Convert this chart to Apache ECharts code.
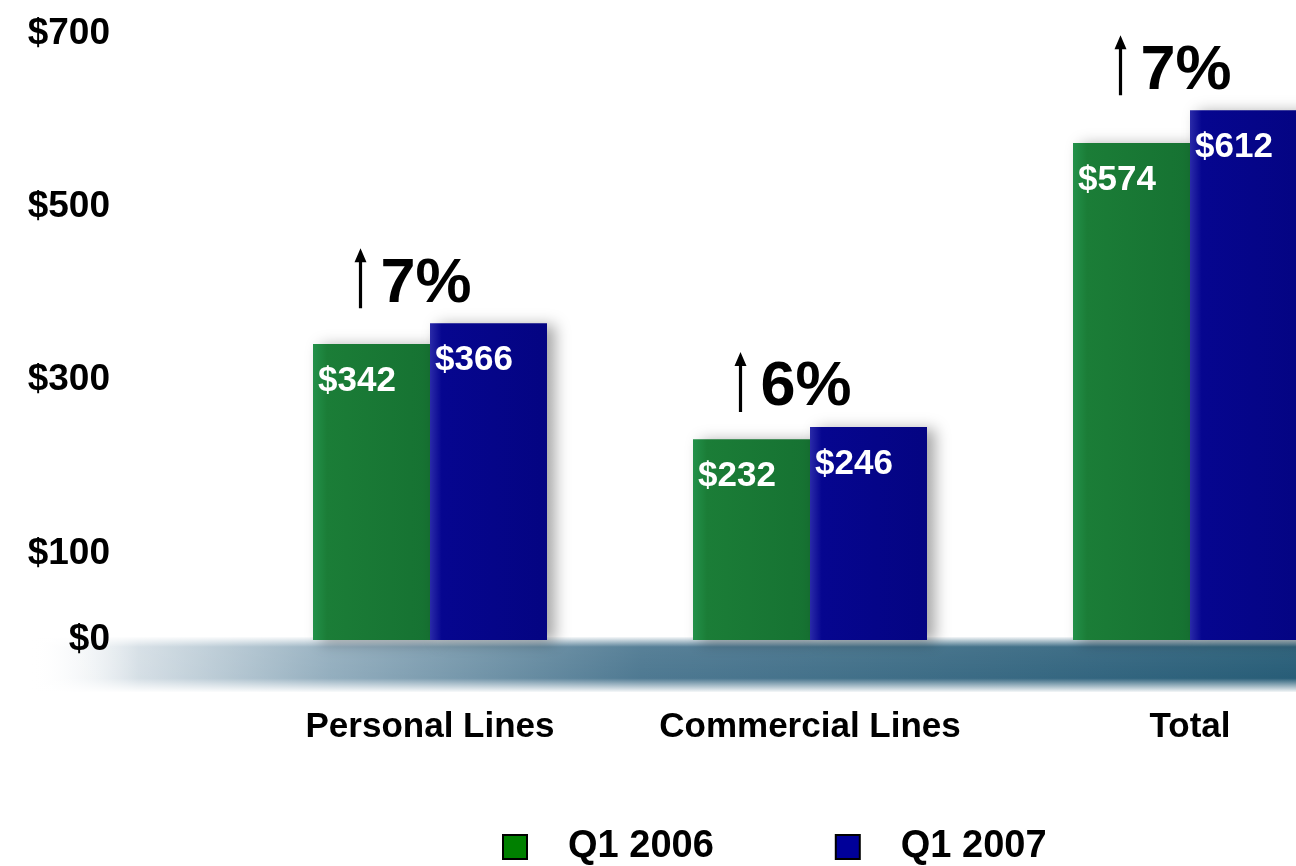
<!DOCTYPE html>
<html>
<head>
<meta charset="utf-8">
<script src="https://cdn.jsdelivr.net/npm/echarts@6/dist/echarts.min.js"></script>
<style>
html,body{margin:0;padding:0;background:#fff;overflow:hidden;width:1296px;height:866px;}
#chart{width:1380px;height:866px;}
</style>
</head>
<body>
<div id="chart"></div>
<script>
var categories = ['Personal Lines', 'Commercial Lines', 'Total'];
var seriesNames = ['Q1 2006', 'Q1 2007'];
var q1_2006 = [342, 232, 574];
var q1_2007 = [366, 246, 612];
var growth = ['7%', '6%', '7%'];
var yTickLabels = [0, 100, 300, 500, 700];

var FONT = '"Liberation Sans", Arial, Helvetica, sans-serif';

var chart = echarts.init(document.getElementById('chart'));

var greenFill = new echarts.graphic.LinearGradient(0, 0, 1, 0, [
  {offset: 0, color: '#23914a'},
  {offset: 0.12, color: '#1b7d37'},
  {offset: 1, color: '#167232'}
]);
var blueFill = new echarts.graphic.LinearGradient(0, 0, 1, 0, [
  {offset: 0, color: '#2a2aa8'},
  {offset: 0.1, color: '#06068f'},
  {offset: 1, color: '#040482'}
]);

var valueLabel = {
  show: true,
  position: [5, 20],
  color: '#ffffff',
  fontFamily: FONT,
  fontWeight: 'bold',
  fontSize: 35,
  formatter: function (p) { return '$' + p.value; }
};

var arrowPath = 'path://M6,0 L12,14 L7.6,14 L7.6,60 L4.4,60 L4.4,14 L0,14 Z';

option = {
  backgroundColor: '#ffffff',
  animation: false,
  textStyle: {fontFamily: FONT},
  graphic: [
    {
      type: 'rect', z: -10, silent: true,
      shape: {x: 30, y: 637, width: 1360, height: 55},
      style: {
        fill: new echarts.graphic.LinearGradient(0, 0, 1, 0, [
          {offset: 0, color: 'rgba(255,255,255,0)'},
          {offset: 0.08, color: '#d3dde4'},
          {offset: 0.22, color: '#8eaabb'},
          {offset: 0.45, color: '#45728c'},
          {offset: 1, color: '#16506c'}
        ])
      }
    },
    {
      type: 'rect', z: -9, silent: true,
      shape: {x: 30, y: 637, width: 1360, height: 55},
      style: {
        fill: new echarts.graphic.LinearGradient(0, 0, 0, 1, [
          {offset: 0, color: 'rgba(255,255,255,0.95)'},
          {offset: 0.18, color: 'rgba(255,255,255,0.1)'},
          {offset: 0.75, color: 'rgba(255,255,255,0.05)'},
          {offset: 1, color: 'rgba(255,255,255,0.95)'}
        ])
      }
    }
  ],
  legend: {
    left: 497,
    top: 823,
    itemWidth: 24,
    itemHeight: 24,
    itemGap: 121,
    icon: 'rect',
    textStyle: {
      fontFamily: FONT, fontWeight: 'bold', fontSize: 38, color: '#000',
      padding: [4, 0, 0, 36]
    },
    data: [
      {name: seriesNames[0], itemStyle: {color: '#008000', borderColor: '#000', borderWidth: 2}},
      {name: seriesNames[1], itemStyle: {color: '#000099', borderColor: '#000', borderWidth: 2}}
    ]
  },
  grid: {left: 240, right: 0, top: 34, bottom: 226, containLabel: false},
  xAxis: {
    type: 'category',
    data: categories,
    z: 5,
    axisLine: {show: false},
    axisTick: {show: false},
    axisLabel: {
      interval: 0,
      margin: 70,
      color: '#000',
      fontFamily: FONT,
      fontWeight: 'bold',
      fontSize: 35
    }
  },
  yAxis: {
    type: 'value',
    min: 0,
    max: 700,
    interval: 100,
    z: 5,
    splitLine: {show: false},
    axisLine: {show: false},
    axisTick: {show: false},
    axisLabel: {
      margin: 130,
      color: '#000',
      fontFamily: FONT,
      fontWeight: 'bold',
      fontSize: 37,
      padding: [10, 0, 0, 0],
      formatter: function (v) {
        return yTickLabels.indexOf(v) >= 0 ? '$' + v : '';
      }
    }
  },
  series: [
    {
      name: seriesNames[0],
      type: 'bar',
      z: 3,
      barWidth: 117,
      barGap: '0%',
      data: q1_2006,
      itemStyle: {
        color: greenFill,
        shadowBlur: 14,
        shadowOffsetX: 8,
        shadowOffsetY: 2,
        shadowColor: 'rgba(0,0,0,0.35)'
      },
      label: valueLabel
    },
    {
      name: seriesNames[1],
      type: 'bar',
      z: 3,
      barWidth: 117,
      barGap: '0%',
      data: q1_2007,
      itemStyle: {
        color: blueFill,
        shadowBlur: 14,
        shadowOffsetX: 8,
        shadowOffsetY: 2,
        shadowColor: 'rgba(0,0,0,0.35)'
      },
      label: valueLabel,
      markPoint: {
        symbol: arrowPath,
        symbolSize: [12, 60],
        symbolKeepAspect: false,
        symbolOffset: [-128, -45],
        itemStyle: {color: '#000'},
        label: {
          show: true,
          position: 'right',
          distance: 14,
          offset: [0, 6],
          color: '#000',
          fontFamily: FONT,
          fontWeight: 'bold',
          fontSize: 63,
          formatter: function (p) { return p.name; }
        },
        data: categories.map(function (c, i) {
          return {name: growth[i], coord: [c, q1_2007[i]]};
        })
      }
    }
  ]
};

chart.setOption(option);
</script>
</body>
</html>
